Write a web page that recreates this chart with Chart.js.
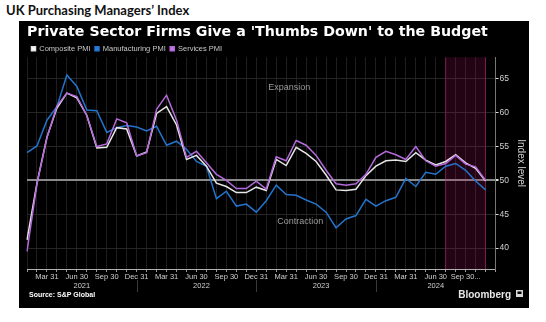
<!DOCTYPE html>
<html>
<head>
<meta charset="utf-8">
<script src="https://cdn.jsdelivr.net/npm/chart.js@4.4.1/dist/chart.umd.min.js"></script>
<style>
    body { margin: 0; background: #fff; width: 546px; height: 322px; position: relative; overflow: hidden; }
    #entete { position: absolute; left: 6px; top: 2px; font: bold 13px Lato, sans-serif; color: #111; }
    #cadre { position: absolute; left: 19px; top: 21px; width: 510px; height: 287px; background: #000; }
</style>
</head>
<body>
<div id="entete">UK Purchasing Managers’ Index</div>
<div id="cadre"><canvas id="graphique_pmi" width="510" height="287"></canvas></div>
<script>
// monthly readings, Jan 2021 -> Nov 2024 (Dec 2024 kept empty so the axis runs to year end)
const mois = [
    'Jan 2021', 'Feb 2021', 'Mar 2021', 'Apr 2021', 'May 2021', 'Jun 2021', 'Jul 2021', 'Aug 2021', 'Sep 2021', 'Oct 2021', 'Nov 2021', 'Dec 2021',
    'Jan 2022', 'Feb 2022', 'Mar 2022', 'Apr 2022', 'May 2022', 'Jun 2022', 'Jul 2022', 'Aug 2022', 'Sep 2022', 'Oct 2022', 'Nov 2022', 'Dec 2022',
    'Jan 2023', 'Feb 2023', 'Mar 2023', 'Apr 2023', 'May 2023', 'Jun 2023', 'Jul 2023', 'Aug 2023', 'Sep 2023', 'Oct 2023', 'Nov 2023', 'Dec 2023',
    'Jan 2024', 'Feb 2024', 'Mar 2024', 'Apr 2024', 'May 2024', 'Jun 2024', 'Jul 2024', 'Aug 2024', 'Sep 2024', 'Oct 2024', 'Nov 2024', 'Dec 2024'
];

const composite = [
    41.2, 49.6, 56.4, 60.7, 62.9, 62.2, 59.6, 54.8, 54.9, 57.8, 57.6, 53.6,
    54.2, 59.9, 60.9, 58.2, 53.1, 53.7, 52.1, 49.6, 49.1, 48.2, 48.2, 49.0,
    48.5, 53.1, 52.2, 54.9, 54.0, 52.8, 50.8, 48.6, 48.5, 48.7, 50.7, 52.1,
    52.9, 53.0, 52.8, 54.1, 53.0, 52.3, 52.8, 53.8, 52.6, 51.8, 49.9
];

const manufacturing = [
    54.1, 55.1, 58.9, 60.9, 65.6, 63.9, 60.4, 60.3, 57.1, 57.8, 58.1, 57.9,
    57.3, 58.0, 55.2, 55.8, 54.6, 52.8, 52.1, 47.3, 48.4, 46.2, 46.5, 45.3,
    47.0, 49.3, 47.9, 47.8, 47.1, 46.5, 45.3, 43.0, 44.3, 44.8, 47.2, 46.2,
    47.0, 47.5, 50.3, 49.1, 51.2, 50.9, 52.1, 52.5, 51.5, 49.9, 48.6
];

const services = [
    39.5, 49.5, 56.3, 61.0, 62.9, 62.4, 59.6, 55.0, 55.4, 59.1, 58.5, 53.6,
    54.1, 60.5, 62.6, 58.9, 53.4, 54.3, 52.6, 50.9, 50.0, 48.8, 48.8, 49.9,
    48.7, 53.5, 52.9, 55.9, 55.2, 53.7, 51.5, 49.5, 49.3, 49.5, 50.9, 53.4,
    54.3, 53.8, 53.1, 55.0, 52.9, 52.1, 52.5, 53.7, 52.4, 52.0, 50.0
];

// quarter-end tick texts
const etiquettes_trimestre = { Mar: 'Mar 31', Jun: 'Jun 30', Sep: 'Sep 30', Dec: 'Dec 31' };
const derniere_etiquette = 'Sep 30...';
const annees = ['2021', '2022', '2023', '2024'];
const periode_budget = ['Jul 2024', 'Nov 2024'];
const valeurs_axe = [40, 45, 50, 55, 60, 65];

const police = '"Liberation Sans", Arial, sans-serif';

// pink band over the budget period
const bandeBudget = {
    id: 'bandeBudget',
    beforeDatasetsDraw(chart) {
        const { ctx, chartArea, scales } = chart;
        const x0 = scales.x.getPixelForValue(mois.indexOf(periode_budget[0]));
        const x1 = scales.x.getPixelForValue(mois.indexOf(periode_budget[1]));
        ctx.save();
        ctx.fillStyle = 'rgba(160, 20, 95, 0.22)';
        ctx.fillRect(x0, chartArea.top, x1 - x0, chartArea.bottom - chartArea.top);
        ctx.strokeStyle = 'rgba(190, 30, 110, 0.55)';
        ctx.lineWidth = 1;
        ctx.beginPath();
        ctx.moveTo(x0, chartArea.top); ctx.lineTo(x0, chartArea.bottom);
        ctx.moveTo(x1, chartArea.top); ctx.lineTo(x1, chartArea.bottom);
        ctx.stroke();

        // zone labels
        ctx.font = '9px ' + police;
        ctx.fillStyle = '#9a9a9a';
        ctx.textAlign = 'center';
        ctx.textBaseline = 'middle';
        ctx.fillText('Expansion', scales.x.getPixelForValue(26.3), scales.y.getPixelForValue(63.7));
        ctx.fillText('Contraction', scales.x.getPixelForValue(27.4), scales.y.getPixelForValue(43.9));
        ctx.restore();
    }
};

// year row under the month ticks, source line and logo
const basDePage = {
    id: 'basDePage',
    afterDraw(chart) {
        const { ctx, chartArea, scales } = chart;
        const x = scales.x;
        ctx.save();
        ctx.font = '7.5px ' + police;
        ctx.fillStyle = '#cfcfcf';
        ctx.textAlign = 'center';
        ctx.textBaseline = 'middle';
        annees.forEach((an, i) => {
            const debut = i * 12;
            const fin = Math.min(debut + 11, composite.length - 1);
            ctx.fillText(an, (x.getPixelForValue(debut) + x.getPixelForValue(fin)) / 2, chartArea.bottom + 17);
            if (i < annees.length - 1) {
                const xs = Math.round(x.getPixelForValue(debut + 11)) + 0.5;
                ctx.strokeStyle = '#3a3a3a';
                ctx.lineWidth = 1;
                ctx.beginPath();
                ctx.moveTo(xs, chartArea.bottom + 11);
                ctx.lineTo(xs, chartArea.bottom + 23);
                ctx.stroke();
            }
        });

        ctx.textAlign = 'left';
        ctx.textBaseline = 'alphabetic';
        ctx.fillStyle = '#ffffff';
        ctx.font = 'bold 7px ' + police;
        ctx.fillText('Source: S&P Global', 10, 276);

        ctx.textAlign = 'right';
        ctx.font = 'bold 10px ' + police;
        ctx.fillStyle = '#e8e8e8';
        ctx.fillText('Bloomberg', 492, 277);
        ctx.fillStyle = '#d8d8d8';
        ctx.fillRect(497, 269, 7, 7);
        ctx.fillStyle = '#000';
        ctx.fillRect(498.5, 270.5, 4, 2.5);
        ctx.restore();
    }
};

let graphique_pmi = new Chart(document.getElementById('graphique_pmi').getContext('2d'), {
    type: 'line',
    data: {
        labels: mois,
        datasets: [{
            label: 'Composite PMI',
            data: composite,
            borderColor: '#e6e6e6',
            backgroundColor: '#ffffff',
            borderWidth: 1.5,
            order: 1
        }, {
            label: 'Manufacturing PMI',
            data: manufacturing,
            borderColor: '#2474cc',
            backgroundColor: '#2a7ee0',
            borderWidth: 1.5,
            order: 2
        }, {
            label: 'Services PMI',
            data: services,
            borderColor: '#b46ada',
            backgroundColor: '#c878e8',
            borderWidth: 1.5,
            order: 0
        }]
    },
    options: {
        responsive: false,
        animation: false,
        events: [],
        elements: {
            point: { radius: 0 },
            line: { tension: 0 }
        },
        layout: { padding: { left: 8, right: 0, bottom: 27 } },
        plugins: {
            title: {
                display: true,
                text: "Private Sector Firms Give a 'Thumbs Down' to the Budget",
                align: 'start',
                color: '#ffffff',
                font: { family: '"DejaVu Sans", sans-serif', size: 14.2, weight: 'bold', lineHeight: 1.1 },
                padding: { top: 4, bottom: 0 }
            },
            legend: {
                align: 'start',
                maxHeight: 16.7,
                labels: {
                    boxWidth: 4,
                    boxHeight: 4,
                    color: '#c8c8c8',
                    font: { family: police, size: 7.5 },
                    padding: 4.5,
                    sort: (a, b) => a.datasetIndex - b.datasetIndex
                }
            },
            tooltip: { enabled: false }
        },
        scales: {
            x: {
                offset: false,
                grid: { color: '#1f1f1f', tickColor: '#9a9a9a', tickLength: 3 },
                border: { color: '#b0b0b0' },
                ticks: {
                    autoSkip: false,
                    maxRotation: 0,
                    padding: 0,
                    color: '#cfcfcf',
                    font: { family: police, size: 7.5 },
                    callback: function (value, index) {
                        const m = mois[index].slice(0, 3);
                        if (index === composite.length - 3) return derniere_etiquette;
                        if (index >= composite.length) return '';
                        return etiquettes_trimestre[m] || '';
                    }
                }
            },
            y: {
                position: 'right',
                min: 36.9,
                max: 68.2,
                afterBuildTicks: (axis) => { axis.ticks = valeurs_axe.map(v => ({ value: v })); },
                grid: {
                    color: (c) => c.tick && c.tick.value === 50 ? '#8a8a8a' : '#262626',
                    lineWidth: (c) => c.tick && c.tick.value === 50 ? 2 : 1,
                    tickColor: '#dddddd',
                    tickLength: 3
                },
                border: { color: '#777777' },
                ticks: {
                    color: '#cfcfcf',
                    padding: 1,
                    font: { family: police, size: 8.5 }
                },
                title: {
                    display: true,
                    text: 'Index level',
                    color: '#cfcfcf',
                    font: { family: police, size: 10 },
                    padding: { top: 2, bottom: 5 }
                }
            }
        }
    },
    plugins: [bandeBudget, basDePage]
});
</script>
</body>
</html>
